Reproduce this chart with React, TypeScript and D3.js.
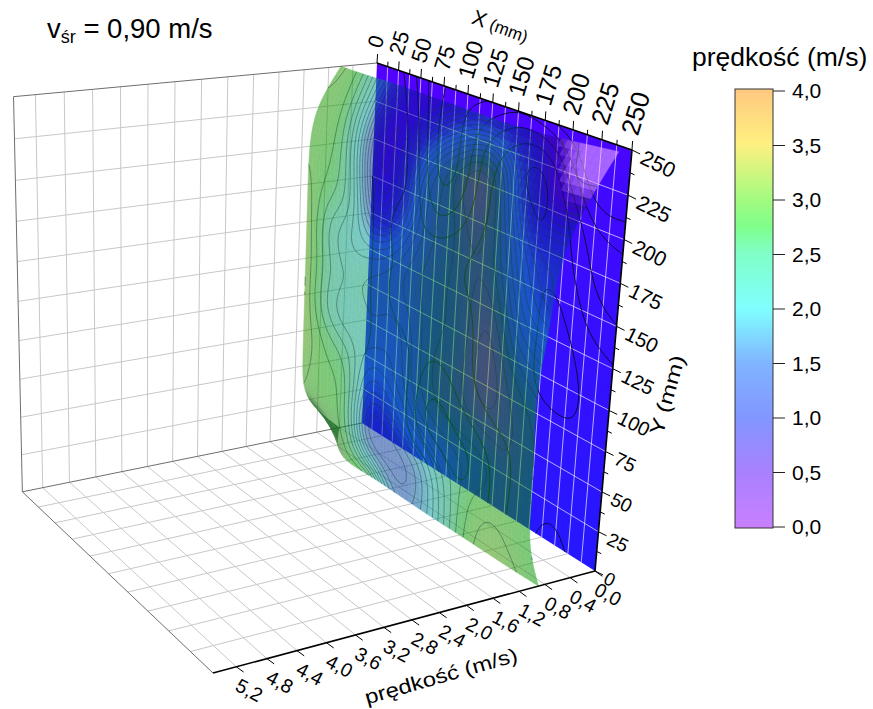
import React, { useMemo } from "react";
import * as d3 from "d3";

// rows run from Y = 250 down to Y = 0, columns from X = 0 to X = 250 every 25 mm
const toneRows = [
  [3.0, 2.8, 1.8, 0.9, 0.8, 1.0, 1.6, 1.3, 0.6, 0.2, 0.1],
  [2.9, 3.0, 2.1, 0.6, 1.0, 2.3, 2.9, 3.6, 2.0, 0.1, 0.2],
  [2.9, 2.9, 2.3, 0.5, 1.0, 2.7, 2.6, 3.2, 2.8, 1.5, 1.6],
  [3.0, 2.7, 2.5, 0.8, 1.7, 2.6, 2.7, 3.0, 2.8, 1.9, 1.5],
  [3.1, 2.35, 2.05, 2.2, 2.5, 2.7, 2.8, 2.9, 3.2, 2.2, 2.0],
  [3.1, 2.55, 2.35, 2.5, 2.4, 2.6, 2.8, 2.8, 3.4, 2.8, 2.6],
  [3.1, 2.35, 2.05, 2.4, 2.1, 2.6, 2.9, 2.9, 3.3, 3.0, 2.8],
  [3.1, 2.8, 2.6, 2.0, 2.2, 2.6, 2.9, 2.9, 2.9, 3.0, 2.8],
  [3.0, 2.8, 2.9, 1.3, 1.7, 2.3, 2.5, 2.6, 2.7, 2.9, 2.8],
  [2.9, 2.9, 2.8, 0.9, 1.2, 1.3, 2.1, 2.7, 3.0, 2.9, 2.8],
  [2.8, 2.9, 2.9, 2.9, 1.5, 1.5, 2.1, 2.8, 3.1, 3.0, 2.8],
];
const heightRows = [
  [0.6, 0.6, 0.55, 0.55, 0.55, 0.55, 0.55, 0.55, 0.5, 0.35, 0.2],
  [1.0, 1.0, 0.95, 0.95, 0.95, 0.92, 0.9, 0.85, 0.8, 0.7, 0.6],
  [1.08, 1.05, 1.0, 1.0, 1.0, 1.0, 1.0, 1.0, 1.0, 0.95, 0.9],
  [1.08, 1.05, 1.0, 1.0, 1.0, 1.0, 1.0, 1.0, 1.0, 1.0, 1.0],
  [1.08, 1.05, 1.0, 1.0, 1.0, 1.0, 1.0, 1.0, 1.05, 1.05, 1.05],
  [1.08, 1.05, 1.0, 1.0, 1.0, 1.0, 1.05, 1.05, 1.1, 1.15, 1.15],
  [1.08, 1.05, 1.0, 1.0, 1.0, 1.0, 1.05, 1.05, 1.1, 1.15, 1.15],
  [1.08, 1.05, 1.0, 1.0, 1.0, 1.0, 1.0, 1.05, 1.05, 1.1, 1.12],
  [1.08, 1.04, 1.0, 1.0, 1.0, 1.0, 1.0, 1.0, 1.0, 1.08, 1.12],
  [1.05, 1.02, 0.98, 0.98, 0.98, 0.98, 0.98, 0.98, 0.98, 1.03, 1.1],
  [0.4, 0.8, 1.0, 0.95, 0.95, 0.95, 0.95, 0.93, 0.93, 0.92, 0.9],
];

const xTicks = d3.range(0, 251, 25);
const yTicks = d3.range(0, 251, 25);
const speedTicks = d3.range(0, 14).map((i) => +(i * 0.4).toFixed(1));
const legendTicks = [0, 0.5, 1, 1.5, 2, 2.5, 3, 3.5, 4];
const toneStops = [0, 0.5, 1, 1.5, 2, 2.5, 2.8, 3.5, 4];
const toneColors = ["#9100ff", "#5500ff", "#052dff", "#0069ff", "#00ffff", "#00ff91", "#00ff00", "#ffe100", "#ff9100"];

const fmt = (v: number) => v.toFixed(1).replace(".", ",");
const speedMax = 5.5;

const tone = d3.scaleLinear<string>().domain(toneStops).range(toneColors).interpolate(d3.interpolateRgb).clamp(true);

const xUnit = d3.scaleLinear().domain([0, 250]).range([1, 0]);
const yUnit = d3.scaleLinear().domain([0, 250]).range([0, 1]);
const sUnit = d3.scaleLinear().domain([0, speedMax]).range([0, 1]);

// perspective of the box, fitted to its corners
const O = [595, 571];
const A = [362, 423];
const B = [632, 150];
const C = [213, 673];
const P = 0.1876;
const Q = -0.0752;
const R = -0.112;

function project(X: number, Y: number, s: number): [number, number] {
  const a = xUnit(X);
  const b = yUnit(Y);
  const c = sUnit(s);
  const d = 1 + P * a + Q * b + R * c;
  const f = (i: number) =>
    (O[i] + a * (A[i] * (1 + P) - O[i]) + b * (B[i] * (1 + Q) - O[i]) + c * (C[i] * (1 + R) - O[i])) / d;
  return [f(0), f(1)];
}

function field(rows: number[][]) {
  const splines = rows.map((r) => d3.interpolateBasis(r));
  return (X: number, Y: number) => {
    const col = splines.map((f) => f(X / 250));
    return d3.interpolateBasis(col)(1 - Y / 250);
  };
}
const toneAt = field(toneRows);
const heightAt = field(heightRows);

const seg = (p: number[], q: number[]) => `M${p[0]},${p[1]}L${q[0]},${q[1]}`;

function unitDir(p: number[], q: number[]) {
  const dx = q[0] - p[0];
  const dy = q[1] - p[1];
  const l = Math.hypot(dx, dy);
  return [dx / l, dy / l];
}

const NX = 120;
const NY = 120;

function contourRuns(levels: number[]) {
  const values: number[] = [];
  for (let j = 0; j <= NY; j++) {
    for (let i = 0; i <= NX; i++) values.push(toneAt((i / NX) * 250, 250 - (j / NY) * 250));
  }
  const w = NX + 1;
  const h = NY + 1;
  const polys = d3.contours().size([w, h]).thresholds(levels)(values);
  const runs: [number, number][][] = [];
  polys.forEach((mp) =>
    mp.coordinates.forEach((poly) =>
      poly.forEach((ring) => {
        let run: [number, number][] = [];
        ring.forEach(([gx, gy]) => {
          if (gx <= 0 || gx >= w || gy <= 0 || gy >= h) {
            if (run.length > 1) runs.push(run);
            run = [];
          } else {
            const X = Math.min(250, Math.max(0, ((gx - 0.5) / NX) * 250));
            const Y = Math.min(250, Math.max(0, 250 - ((gy - 0.5) / NY) * 250));
            run.push([X, Y]);
          }
        });
        if (run.length > 1) runs.push(run);
      })
    )
  );
  return runs;
}

export default function App() {
  const line = d3.line();

  const { quads, folds } = useMemo(() => {
    const n = 62;
    const quads: { d: string; c: string }[] = [];
    const folds: { d: string; o: number }[] = [];
    const shade = d3.scaleLinear().domain([8, 20]).range([0.42, 0.6]).clamp(true);
    const foldOpacity = d3.scaleLinear().domain([0.03, 0.07]).range([0, 0.8]).clamp(true);
    const lilac = d3.scaleLinear().domain([0.22, 0.48]).range([1, 0]).clamp(true);
    for (let j = 0; j < n; j++) {
      for (let i = 0; i < n; i++) {
        const x0 = (i / n) * 250;
        const x1 = ((i + 1) / n) * 250;
        const y0 = 250 - (j / n) * 250;
        const y1 = 250 - ((j + 1) / n) * 250;
        const pts = [
          project(x0, y0, heightAt(x0, y0)),
          project(x1, y0, heightAt(x1, y0)),
          project(x1, y1, heightAt(x1, y1)),
          project(x0, y1, heightAt(x0, y1)),
        ];
        const t = toneAt((x0 + x1) / 2, (y0 + y1) / 2);
        const rgb = d3.rgb(tone(t));
        const k = shade(Math.abs(d3.polygonArea(pts)));
        const c = d3.rgb(rgb.r * k, rgb.g * k, rgb.b * k).formatRgb();
        const path = `M${pts.join("L")}Z`;
        quads.push({ d: path, c: d3.interpolateRgb(c, "#ffb8ff")(lilac(t)) });
        // the steep fold next to the X = 0, Y = 0 corner reads darker
        const steep = Math.max(Math.abs(heightAt(x1, y0) - heightAt(x0, y0)), Math.abs(heightAt(x0, y1) - heightAt(x0, y0)));
        if (y0 < 40 && x0 < 70 && foldOpacity(steep) > 0) folds.push({ d: path, o: foldOpacity(steep) });
      }
    }
    return { quads, folds };
  }, []);

  const planeLines = useMemo(
    () => contourRuns([1, 1.5, 2, 2.5, 3]).map((r) => line(r.map(([X, Y]) => project(X, Y, 0))) as string),
    []
  );
  const sheetLines = useMemo(
    () =>
      contourRuns(d3.range(0.25, 3.9, 0.15)).map(
        (r) => line(r.map(([X, Y]) => project(X, Y, heightAt(X, Y)))) as string
      ),
    []
  );

  const wallV = speedTicks.slice(1);
  const xMinor = d3.range(12.5, 250, 25);
  const xAll = d3.range(12.5, 250, 12.5);
  const yInner = yTicks.slice(1, -1);

  const xDir = unitDir(project(125, 250, 0), project(125, 300, 0));
  const yDir = unitDir(project(250, 125, 0), project(300, 125, 0));
  const sDir = unitDir(project(250, 0, 2), project(300, 0, 2));

  const legendY = d3.scaleLinear().domain([0, 4]).range([527, 91]);
  const xFont = d3.scaleLinear().domain([0, 250]).range([21, 26]);
  const yFont = d3.scaleLinear().domain([0, 250]).range([18.5, 21.5]);
  const stops = d3.range(0, 4.01, 0.25);

  const font = "'Liberation Sans', Arial, sans-serif";

  return (
    <svg width={873} height={709} viewBox="0 0 873 709" style={{ position: "absolute", left: 0, top: 0 }} fontFamily={font}>
      <defs>
        <linearGradient id="planeFill" gradientUnits="userSpaceOnUse" x1={0} y1={60} x2={0} y2={570}>
          <stop offset="0" stopColor="#5400ff" />
          <stop offset="0.25" stopColor="#4208ff" />
          <stop offset="1" stopColor="#2418ff" />
        </linearGradient>
        <linearGradient id="legendFill" x1={0} y1={1} x2={0} y2={0}>
          {stops.map((v) => (
            <stop key={v} offset={v / 4} stopColor={tone(v)} stopOpacity={0.5} />
          ))}
        </linearGradient>
      </defs>

      {/* back wall and floor grid */}
      <g fill="none" stroke="#c8c8c8" strokeWidth={1}>
        {wallV.map((s) => (
          <path key={`wv${s}`} d={seg(project(0, 0, s), project(0, 250, s))} />
        ))}
        {yInner.map((y) => (
          <path key={`wh${y}`} d={seg(project(0, y, 0), project(0, y, speedMax))} />
        ))}
        {wallV.map((s) => (
          <path key={`fv${s}`} d={seg(project(0, 0, s), project(250, 0, s))} />
        ))}
        {xTicks.slice(1, -1).map((x) => (
          <path key={`fh${x}`} d={seg(project(x, 0, 0), project(x, 0, speedMax))} />
        ))}
      </g>
      <g fill="none" stroke="#6e6e6e" strokeWidth={1}>
        <path d={seg(project(0, 250, 0), project(0, 250, speedMax))} />
        <path d={seg(project(0, 250, speedMax), project(0, 0, speedMax))} />
        <path d={seg(project(0, 0, speedMax), project(0, 0, 0))} />
        <path d={seg(project(0, 0, speedMax), project(250, 0, speedMax))} />
      </g>

      {/* wall behind the surface */}
      <path
        d={`M${[project(0, 250, 0), project(250, 250, 0), project(250, 0, 0), project(0, 0, 0)].join("L")}Z`}
        fill="url(#planeFill)"
      />
      <g fill="none" stroke="#ffffff" strokeOpacity={0.65} strokeWidth={1}>
        {xAll.map((x) => (
          <path key={`px${x}`} d={seg(project(x, 0, 0), project(x, 250, 0))} />
        ))}
        {yInner.map((y) => (
          <path key={`py${y}`} d={seg(project(0, y, 0), project(250, y, 0))} />
        ))}
      </g>
      <g fill="none" stroke="#0a0a3c" strokeWidth={1}>
        {planeLines.map((d, i) => (
          <path key={i} d={d} />
        ))}
      </g>

      {/* translucent surface */}
      <g opacity={0.53}>
        {quads.map((q, i) => (
          <path key={i} d={q.d} fill={q.c} stroke={q.c} strokeWidth={0.5} />
        ))}
      </g>
      <g fill="#1f6a2a">
        {folds.map((q, i) => (
          <path key={i} d={q.d} fillOpacity={q.o} />
        ))}
      </g>
      <g fill="none" stroke="#1e3a34" strokeOpacity={0.55} strokeWidth={0.8}>
        {sheetLines.map((d, i) => (
          <path key={i} d={d} />
        ))}
      </g>

      {/* axes */}
      <g fill="none" stroke="#000" strokeWidth={1.6}>
        <path d={seg(project(0, 250, 0), project(250, 250, 0))} />
        <path d={seg(project(250, 250, 0), project(250, 0, 0))} />
        <path d={seg(project(250, 0, 0), project(250, 0, speedMax))} />
      </g>
      <g fill="none" stroke="#000" strokeWidth={1}>
        {xMinor.map((x) => {
          const p = project(x, 250, 0);
          return <path key={`xm${x}`} d={seg(p, [p[0] + xDir[0] * 5, p[1] + xDir[1] * 5])} />;
        })}
        {xMinor.map((y) => {
          const p = project(250, y, 0);
          return <path key={`ym${y}`} d={seg(p, [p[0] + yDir[0] * 5, p[1] + yDir[1] * 5])} />;
        })}
        {xTicks.map((x) => {
          const p = project(x, 250, 0);
          return <path key={`xt${x}`} d={seg(p, [p[0] + xDir[0] * 9, p[1] + xDir[1] * 9])} />;
        })}
        {yTicks.map((y) => {
          const p = project(250, y, 0);
          return <path key={`yt${y}`} d={seg(p, [p[0] + yDir[0] * 9, p[1] + yDir[1] * 9])} />;
        })}
        {speedTicks.map((s) => {
          const p = project(250, 0, s);
          return <path key={`st${s}`} d={seg(p, [p[0] + sDir[0] * 9, p[1] + sDir[1] * 9])} />;
        })}
      </g>

      <g fill="#000">
        {xTicks.map((x) => {
          const p = project(x, 250, 0);
          const lx = p[0] - 3;
          const ly = p[1] - 16;
          return (
            <text key={x} x={lx} y={ly} dy="0.35em" fontSize={xFont(x)} transform={`rotate(-73 ${lx} ${ly})`}>
              {x}
            </text>
          );
        })}
        {yTicks.map((y) => {
          const p = project(250, y, 0);
          const lx = p[0] + 10;
          const ly = p[1] + 6;
          return (
            <text key={y} x={lx} y={ly} dy="0.35em" fontSize={yFont(y)} transform={`rotate(26 ${lx} ${ly})`}>
              {y}
            </text>
          );
        })}
        {speedTicks.map((s) => {
          const p = project(250, 0, s);
          const lx = p[0] + 1;
          const ly = p[1] + 17;
          return (
            <text key={s} x={lx} y={ly} dy="0.35em" fontSize={19.5} transform={`rotate(28 ${lx} ${ly})`}>
              {fmt(s)}
            </text>
          );
        })}
      </g>
      <text x={498} y={33} fontSize={21} textAnchor="middle" transform="rotate(20 498 33)">
        X
        <tspan fontSize={17}> (mm)</tspan>
      </text>
      <text
        x={667}
        y={395}
        fontSize={20}
        textAnchor="middle"
        dy="0.35em"
        textLength={82}
        lengthAdjust="spacingAndGlyphs"
        transform="rotate(-74 667 395)"
      >
        Y (mm)
      </text>
      <text
        x={441}
        y={676}
        fontSize={20}
        textAnchor="middle"
        dy="0.35em"
        textLength={158}
        lengthAdjust="spacingAndGlyphs"
        transform="rotate(-16 441 676)"
      >
        prędkość (m/s)
      </text>

      <text x={47} y={38} fontSize={27.5}>
        v
        <tspan fontSize={18} dy={5}>
          śr
        </tspan>
        <tspan dy={-5}> = 0,90 m/s</tspan>
      </text>

      {/* colour scale */}
      <text x={692} y={66} fontSize={26.5}>
        prędkość (m/s)
      </text>
      <rect x={735} y={89} width={38} height={439} fill="url(#legendFill)" stroke="#333" strokeWidth={1} />
      {legendTicks.map((v) => (
        <g key={v}>
          <line x1={773} x2={785} y1={legendY(v)} y2={legendY(v)} stroke="#222" />
          <text x={792} y={legendY(v)} dy="0.35em" fontSize={21}>
            {fmt(v)}
          </text>
        </g>
      ))}
    </svg>
  );
}
